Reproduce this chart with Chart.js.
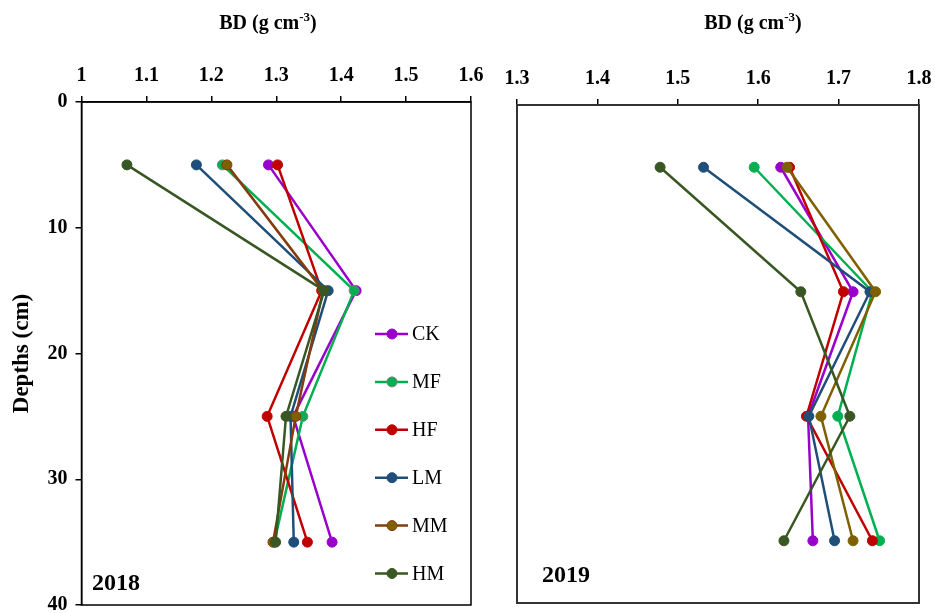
<!DOCTYPE html>
<html>
<head>
<meta charset="utf-8">
<script src="https://cdn.jsdelivr.net/npm/chart.js@4.4.1/dist/chart.umd.min.js"></script>
<style>
  html, body { margin:0; padding:0; background:#fff; }
  #wrap { position:relative; width:935px; height:613px; overflow:hidden; }
  #c18 { position:absolute; left:0; top:0; }
  #c19 { position:absolute; left:490px; top:0; }
</style>
</head>
<body>
<div id="wrap">
  <canvas id="c18" width="490" height="613" style="width:490px;height:613px"></canvas>
  <canvas id="c19" width="445" height="613" style="width:445px;height:613px"></canvas>
</div>
<script>
// sampling depths (cm) and treatments
const depths = [5, 15, 25, 35];
const treatments = ["CK", "MF", "HF", "LM", "MM", "HM"];

// bulk density 2018 (g cm-3), one value per depth
const ck2018 = [1.288, 1.423, 1.326, 1.386];
const mf2018 = [1.217, 1.420, 1.341, 1.297];
const hf2018 = [1.302, 1.370, 1.286, 1.348];
const lm2018 = [1.177, 1.380, 1.322, 1.327];
const mm2018 = [1.224, 1.372, 1.330, 1.295];
const hm2018 = [1.070, 1.374, 1.315, 1.299];

// bulk density 2019
const ck2019 = [1.628, 1.718, 1.662, 1.668];
const mf2019 = [1.595, 1.742, 1.699, 1.751];
const hf2019 = [1.639, 1.706, 1.660, 1.742];
const lm2019 = [1.532, 1.739, 1.663, 1.695];
const mm2019 = [1.636, 1.746, 1.678, 1.718];
const hm2019 = [1.478, 1.653, 1.714, 1.632];

// axis ticks
const xTicks2018 = [1, 1.1, 1.2, 1.3, 1.4, 1.5, 1.6];
const xTicks2019 = [1.3, 1.4, 1.5, 1.6, 1.7, 1.8];
const depthTicks = [0, 10, 20, 30, 40];

const SERIF = "'Liberation Serif', 'Times New Roman', serif";

const lineCols2018 = ["#9900CC", "#00B050", "#C00000", "#1F4E79", "#843C0C", "#385723"];
const dotCols2018  = ["#9900CC", "#00B050", "#C00000", "#1F4E79", "#7F6000", "#385723"];
const edgeCols2018 = ["#9900CC", "#7F7F7F", "#C00000", "#1F4E79", "#843C0C", "#385723"];
const lineCols2019 = ["#9900CC", "#00B050", "#C00000", "#1F4E79", "#7F6000", "#385723"];

function series(vals, i, lines, dots, edges){
  return {
    label: treatments[i],
    data: vals.map((v, k) => ({ x: v, y: depths[k] })),
    showLine: true,
    borderColor: lines[i],
    borderWidth: 2.5,
    pointRadius: 5,
    pointHoverRadius: 5,
    pointBackgroundColor: dots[i],
    pointBorderColor: edges[i],
    pointBorderWidth: 1,
    order: treatments.length - 1 - i
  };
}

function drawSupTitle(ctx, cx, y){
  const big = "bold 20px " + SERIF, small = "bold 13px " + SERIF;
  ctx.save();
  ctx.fillStyle = "#000";
  ctx.textAlign = "left";
  ctx.textBaseline = "alphabetic";
  ctx.font = big;
  const a = "BD (g cm", c = ")";
  const wa = ctx.measureText(a).width, wc = ctx.measureText(c).width;
  ctx.font = small;
  const wb = ctx.measureText("-3").width;
  let x = cx - (wa + wb + wc) / 2;
  ctx.font = big; ctx.fillText(a, x, y); x += wa;
  ctx.font = small; ctx.fillText("-3", x, y - 8); x += wb;
  ctx.font = big; ctx.fillText(c, x, y);
  ctx.restore();
}

const panelPlugin = {
  id: "panel",
  afterDraw(chart, args, o){
    const ctx = chart.ctx, a = chart.chartArea;
    ctx.save();
    ctx.strokeStyle = o.frameColor;
    ctx.lineWidth = o.frameWidth;
    ctx.strokeRect(a.left, a.top, a.right - a.left, a.bottom - a.top);
    ctx.fillStyle = "#000";
    ctx.font = "bold 24px " + SERIF;
    ctx.textAlign = "left";
    ctx.textBaseline = "alphabetic";
    ctx.fillText(o.year, o.yearX, o.yearY);
    ctx.restore();
    drawSupTitle(ctx, o.titleX, 29);
    if (o.legend) {
      ctx.save();
      chart.data.datasets.forEach((ds, i) => {
        const y = o.legendY + i * 47.9;
        ctx.strokeStyle = ds.borderColor;
        ctx.lineWidth = 2.5;
        ctx.beginPath();
        ctx.moveTo(o.legendX, y);
        ctx.lineTo(o.legendX + 33, y);
        ctx.stroke();
        ctx.beginPath();
        ctx.arc(o.legendX + 17, y, 5, 0, Math.PI * 2);
        ctx.fillStyle = ds.pointBackgroundColor;
        ctx.fill();
        ctx.lineWidth = 1;
        ctx.strokeStyle = ds.pointBorderColor;
        ctx.stroke();
        ctx.fillStyle = "#000";
        ctx.font = "20px " + SERIF;
        ctx.textAlign = "left";
        ctx.textBaseline = "middle";
        ctx.fillText(ds.label, o.legendX + 37, y + 1);
      });
      ctx.restore();
    }
  }
};

function xAxis(ticks, top){
  return {
    type: "linear", position: "top",
    min: ticks[0], max: ticks[ticks.length - 1],
    afterBuildTicks: s => { s.ticks = ticks.map(v => ({ value: v })); },
    ticks: {
      color: "#000", font: { family: SERIF, size: 20, weight: "bold" }, padding: 8, maxRotation: 0, autoSkip: false,
      callback: v => String(Math.round(v * 10) / 10)
    },
    grid: { drawOnChartArea: false, drawTicks: true, tickLength: 6, color: "#000", lineWidth: 1.5 },
    border: { display: true, color: "#000", width: 1.5 },
    afterFit: s => { s.height = top; s.paddingLeft = 0; s.paddingRight = 0; }
  };
}

function yAxis(show, left){
  return {
    type: "linear", reverse: true, min: 0, max: 40,
    display: show,
    afterBuildTicks: s => { s.ticks = depthTicks.map(v => ({ value: v })); },
    ticks: { color: "#000", font: { family: SERIF, size: 20, weight: "bold" }, padding: 8, autoSkip: false },
    grid: { drawOnChartArea: false, drawTicks: true, tickLength: 6, color: "#000", lineWidth: 1.5 },
    border: { display: true, color: "#000", width: 1.5 },
    title: { display: true, text: "Depths (cm)", color: "#000", font: { family: SERIF, size: 23, weight: "bold" }, padding: { top: 8, bottom: 0 } },
    afterFit: s => { s.width = left; s.paddingTop = 0; s.paddingBottom = 0; }
  };
}

new Chart(document.getElementById("c18"), {
  type: "scatter",
  data: { datasets: [
    series(ck2018, 0, lineCols2018, dotCols2018, edgeCols2018),
    series(mf2018, 1, lineCols2018, dotCols2018, edgeCols2018),
    series(hf2018, 2, lineCols2018, dotCols2018, edgeCols2018),
    series(lm2018, 3, lineCols2018, dotCols2018, edgeCols2018),
    series(mm2018, 4, lineCols2018, dotCols2018, edgeCols2018),
    series(hm2018, 5, lineCols2018, dotCols2018, edgeCols2018)
  ]},
  options: {
    responsive: false, animation: false,
    layout: { padding: { left: 0, top: 0, right: 19, bottom: 8 } },
    scales: { x: xAxis(xTicks2018, 102), y: yAxis(true, 81.5) },
    plugins: {
      legend: { display: false }, tooltip: { enabled: false },
      panel: { frameColor: "#000", frameWidth: 1.5, year: "2018", yearX: 92, yearY: 590,
               titleX: 268, legend: true, legendX: 375, legendY: 334 }
    }
  },
  plugins: [panelPlugin]
});

new Chart(document.getElementById("c19"), {
  type: "scatter",
  data: { datasets: [
    series(ck2019, 0, lineCols2019, lineCols2019, lineCols2019),
    series(mf2019, 1, lineCols2019, lineCols2019, lineCols2019),
    series(hf2019, 2, lineCols2019, lineCols2019, lineCols2019),
    series(lm2019, 3, lineCols2019, lineCols2019, lineCols2019),
    series(mm2019, 4, lineCols2019, lineCols2019, lineCols2019),
    series(hm2019, 5, lineCols2019, lineCols2019, lineCols2019)
  ]},
  options: {
    responsive: false, animation: false,
    layout: { padding: { left: 27, top: 0, right: 16, bottom: 10 } },
    scales: { x: xAxis(xTicks2019, 105), y: yAxis(false, 0) },
    plugins: {
      legend: { display: false }, tooltip: { enabled: false },
      panel: { frameColor: "#333", frameWidth: 2, year: "2019", yearX: 52, yearY: 582,
               titleX: 263, legend: false }
    }
  },
  plugins: [panelPlugin]
});
</script>
</body>
</html>
